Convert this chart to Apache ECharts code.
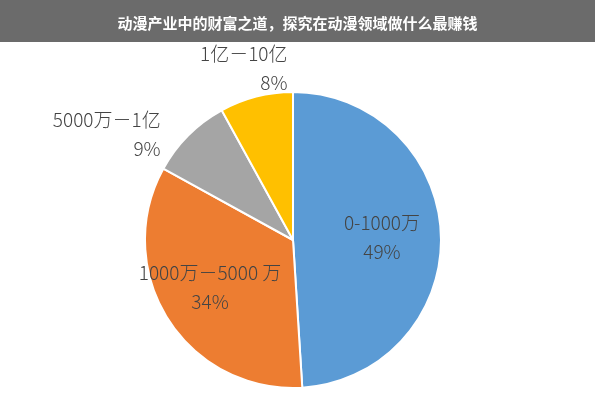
<!DOCTYPE html>
<html><head><meta charset="utf-8">
<script src="https://cdn.jsdelivr.net/npm/echarts@6/dist/echarts.min.js"></script>
<style>html,body{margin:0;padding:0;background:#fff}#c{width:595px;height:400px}</style>
</head><body><div id="c"></div>
<script>
const categories = ['0-1000万', '1000万－5000 万', '5000万－1亿', '1亿－10亿'];
const values = [49, 34, 9, 8];
const colors = ['#5b9bd5', '#ed7d31', '#a5a5a5', '#ffc000'];
const title = '动漫产业中的财富之道，探究在动漫领域做什么最赚钱';
const labelShift = [[12, 0], [-18, 6], [28, -8], [65, -14]];

const chart = echarts.init(document.getElementById('c'));
chart.setOption({
  backgroundColor: '#fff',
  graphic: [{type:'rect', left:0, top:0, shape:{width:595, height:42}, style:{fill:'#6b6b6b'}, z:-1}],
  title: {text: title, left: 'center', top: 11,
    textStyle: {color: '#fff', fontSize: 15, fontWeight: 'bold', fontFamily: 'Noto Sans CJK SC'}},
  series: [{
    type: 'pie', center: [293, 240], radius: 148, startAngle: 90, clockwise: true,
    itemStyle: {borderColor: '#fff', borderWidth: 2},
    labelLine: {show: false},
    labelLayout: p => ({dx: labelShift[p.dataIndex][0], dy: labelShift[p.dataIndex][1]}),
    data: categories.map((n, i) => ({
      name: n, value: values[i], itemStyle: {color: colors[i]},
      label: i < 2 ? {position: 'inside'} : {position: 'outside', distanceToLabelLine: 0}
    })),
    label: {
      formatter: p => p.name + '\n' + p.value + '%',
      color: '#444', fontSize: 19, lineHeight: 29, fontWeight: 300, fontFamily: 'Noto Sans CJK SC', align: 'center'
    }
  }]
});
</script></body></html>
